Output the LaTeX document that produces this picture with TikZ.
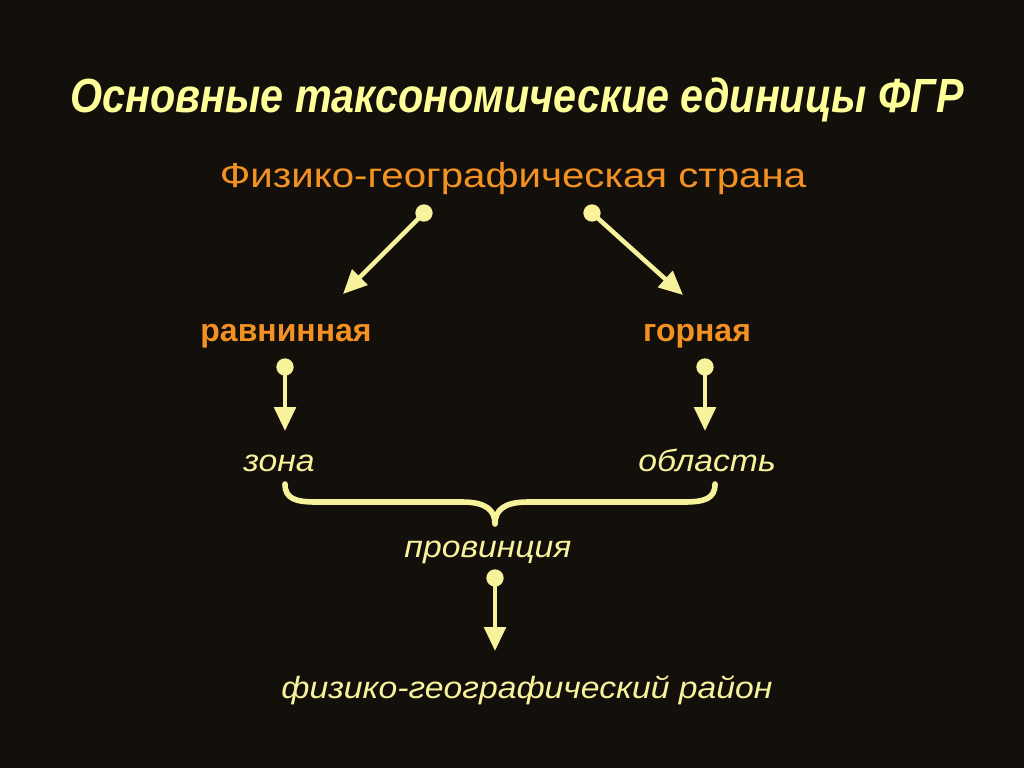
\documentclass[tikz,border=0pt]{standalone}
\usepackage{fontspec}
\setmainfont{Liberation Sans}
\usetikzlibrary{arrows.meta}
\definecolor{bg}{HTML}{130F0B}
\definecolor{org}{HTML}{F39222}
\definecolor{lyel}{HTML}{F8F29C}
\definecolor{ttl}{HTML}{FFFF99}
\tikzset{
  dot/.style={circle,fill=lyel,inner sep=0pt,minimum size=13pt},
  arr/.style={draw=lyel,line width=3.4pt,-{Triangle[length=18pt,width=16pt]}},
  orangetxt/.style={text=org,inner sep=0pt,anchor=base},
  itxt/.style={text=lyel,inner sep=0pt,anchor=base,xscale=1.1,font=\itshape\fontsize{23}{26}\selectfont},
}
\begin{document}
\begin{tikzpicture}[x=0.75pt,y=-0.75pt]
\fill[bg] (0,0) rectangle (1024,768);
\useasboundingbox (0,0) rectangle (1024,768);
% title
\node[text=ttl,inner sep=0pt,anchor=base,xscale=0.86,font=\bfseries\itshape\fontsize{36}{40}\selectfont] (title) at (517,112) {Основные таксономические единицы ФГР};
% nodes
\node[orangetxt,xscale=1.16,font=\fontsize{26}{30}\selectfont] (country) at (513,187) {Физико-географическая страна};
\node[orangetxt,font=\bfseries\fontsize{24}{28}\selectfont] (plain) at (286,341) {равнинная};
\node[orangetxt,font=\bfseries\fontsize{24}{28}\selectfont] (mount) at (697,341) {горная};
\node[itxt] (zone) at (279,471) {зона};
\node[itxt] (oblast) at (707,471) {область};
\node[itxt] (prov) at (488,557) {провинция};
\node[itxt] (rayon) at (527,698) {физико-географический район};
% dots
\node[dot] (d1) at (424,213) {};
\node[dot] (d2) at (592,213) {};
\node[dot] (d3) at (285,367) {};
\node[dot] (d4) at (705,367) {};
\node[dot] (d5) at (495,578) {};
\coordinate (t1) at (343,294);
\coordinate (t2) at (683,295);
\coordinate (t3) at (285,431);
\coordinate (t4) at (705,431);
\coordinate (t5) at (495,651);
\draw[arr] (d1.center) -- (t1);
\draw[arr] (d2.center) -- (t2);
\draw[arr] (d3.center) -- (t3);
\draw[arr] (d4.center) -- (t4);
\draw[arr] (d5.center) -- (t5);
% brace
\draw[lyel,line width=4.2pt,line cap=round,line join=round]
  (285,484) .. controls (285,499) and (296,502) .. (316,502) -- (462,502)
  .. controls (486,502) and (495,510) .. (495,524)
  .. controls (495,510) and (504,502) .. (528,502) -- (684,502)
  .. controls (704,502) and (715,499) .. (715,484);
\end{tikzpicture}
\end{document}
